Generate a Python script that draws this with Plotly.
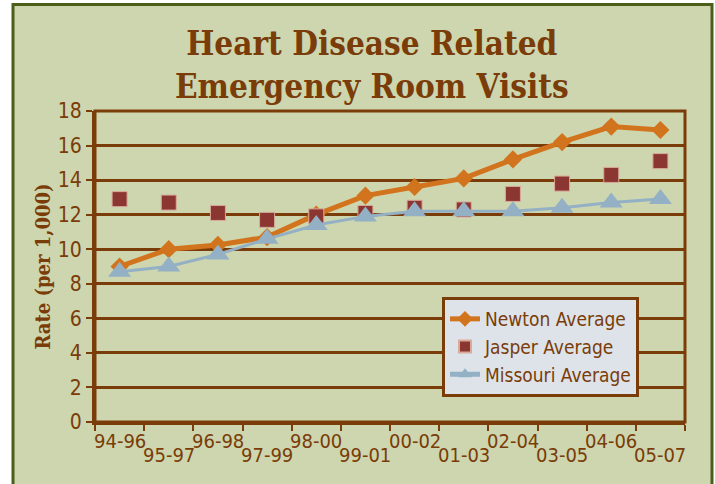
import plotly.graph_objects as go

periods = ["94-96", "95-97", "96-98", "97-99", "98-00", "99-01",
           "00-02", "01-03", "02-04", "03-05", "04-06", "05-07"]
newton = [9.0, 10.0, 10.25, 10.7, 12.0, 13.1, 13.6, 14.1, 15.2, 16.2, 17.1, 16.9]
jasper = [12.9, 12.7, 12.1, 11.7, 11.9, 12.1, 12.4, 12.3, 13.2, 13.8, 14.3, 15.1]
missouri = [8.7, 9.0, 9.7, 10.6, 11.4, 11.9, 12.2, 12.2, 12.2, 12.4, 12.7, 12.9]
y_ticks = [0, 2, 4, 6, 8, 10, 12, 14, 16, 18]

BROWN = "#7a3c08"
TICK_FONT = "Liberation Sans Narrow, DejaVu Sans Condensed, Arial Narrow, sans-serif"
SERIF = "DejaVu Serif Condensed, DejaVu Serif, serif"

W, H = 715, 484
# plot area on the page: x 95..685, y 111..422
L, T = 95, 111
R, B = W - 685, H - 422
PW, PH = 685 - 95, 422 - 111

fig = go.Figure()

fig.add_trace(go.Scatter(
    x=periods, y=newton, name="Newton Average", mode="lines+markers",
    line=dict(color="#d2731d", width=5),
    marker=dict(symbol="diamond", size=14, color="#d2731d"),
))
fig.add_trace(go.Scatter(
    x=periods, y=jasper, name="Jasper Average", mode="markers",
    marker=dict(symbol="square", size=15, color="#8c3631",
                line=dict(color="#d9a99a", width=1)),
))
fig.add_trace(go.Scatter(
    x=periods, y=missouri, name="Missouri Average", mode="lines+markers",
    line=dict(color="#93b0c5", width=3),
    marker=dict(symbol="triangle-up", size=20, color="#93b0c5"),
))

# staggered category labels
for i, p in enumerate(periods):
    fig.add_annotation(
        x=p, y=0, xref="x", yref="paper", yanchor="top",
        yshift=-5 if i % 2 == 0 else -19,
        text=p, showarrow=False,
        font=dict(family=TICK_FONT, size=20, color=BROWN),
    )

# title
fig.add_annotation(
    x=(372 - 95) / PW, y=(422 - 65) / PH, xref="paper", yref="paper",
    xanchor="center", yanchor="middle", showarrow=False,
    text="<b>Heart Disease Related<br>Emergency Room Visits</b>",
    font=dict(family=SERIF, size=33, color=BROWN),
)

# green panel with dark border behind everything
fig.add_shape(
    type="rect", xref="paper", yref="paper", layer="below",
    x0=(13 - 95) / PW, x1=(712 - 95) / PW,
    y0=(422 - 520) / PH, y1=(422 - 4.5) / PH,
    fillcolor="#cdd6ae", line=dict(color="#4b5e1a", width=3),
)
# plot frame top/right
fig.add_shape(
    type="rect", xref="paper", yref="paper",
    x0=0, x1=1, y0=0, y1=1,
    line=dict(color=BROWN, width=3), fillcolor="rgba(0,0,0,0)",
)

fig.update_layout(
    width=W, height=H,
    margin=dict(l=L, r=R, t=T, b=B),
    paper_bgcolor="white",
    plot_bgcolor="#f0dfbf",
    showlegend=True,
    legend=dict(
        x=(442 - 95) / PW, y=(422 - 297) / PH, xanchor="left", yanchor="top",
        bgcolor="#dde3e9", bordercolor=BROWN, borderwidth=3,
        font=dict(family=TICK_FONT, size=19, color=BROWN),
        itemsizing="constant", tracegroupgap=0,
    ),
)

fig.update_xaxes(
    type="category", range=[-0.5, 11.5], tickson="boundaries",
    showticklabels=False, ticks="outside", ticklen=6, tickwidth=2,
    tickcolor=BROWN, showline=True, linecolor=BROWN, linewidth=3,
    showgrid=False, zeroline=False, automargin=False,
)
fig.update_yaxes(
    range=[0, 18], tickvals=y_ticks, ticks="outside", ticklen=6, tickwidth=2,
    tickcolor=BROWN, showline=True, linecolor=BROWN, linewidth=3,
    showgrid=True, gridcolor=BROWN, gridwidth=2.5, zeroline=False,
    tickfont=dict(family=TICK_FONT, size=21, color=BROWN), automargin=False,
    title=dict(text="<b>Rate (per 1,000)</b>", standoff=2,
               font=dict(family=SERIF, size=20, color=BROWN)),
)

# drop the browser's default body margin so the figure sits at the page corner
fig.write_html("out.html", config={"displayModeBar": False},
               post_script="document.body.style.margin = '0px';")
